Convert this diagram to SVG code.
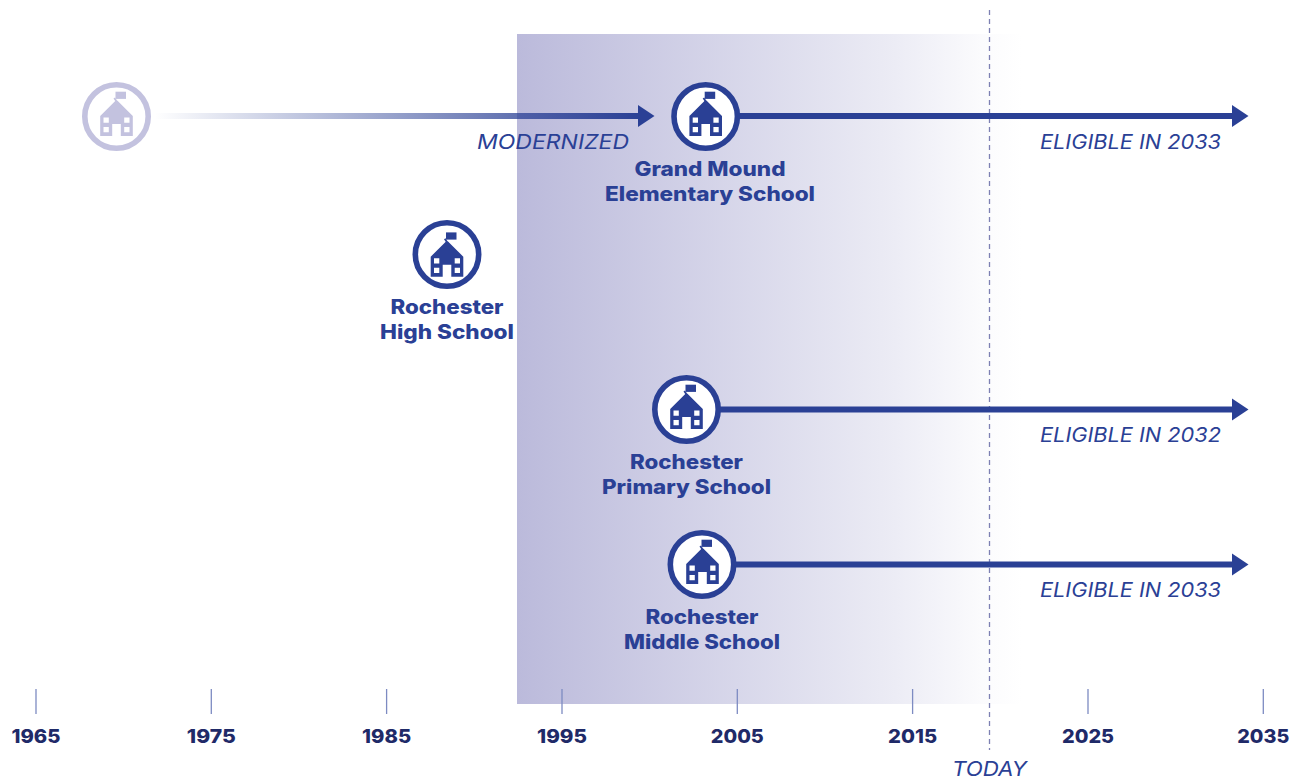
<svg xmlns="http://www.w3.org/2000/svg" width="1300" height="782" viewBox="0 0 1300 782">
<style>
text{font-family:"Inter","Open Sans","Liberation Sans",sans-serif}
.name{font-size:20px;font-weight:800;fill:#2a4095;text-anchor:middle}
.note{font-size:20px;font-style:italic;font-weight:400;fill:#2a4095}
.year{font-size:19px;font-weight:800;fill:#1f2a68;text-anchor:middle}
.line{stroke:#2a4095;stroke-width:6;fill:none}
.tick{stroke:#7d8bc2;stroke-width:1.3}
.head{fill:#2a4095}
</style>
<defs>
<linearGradient id="band" x1="0" x2="1" y1="0" y2="0"><stop offset="0" stop-color="#bbbadb"/><stop offset=".75" stop-color="#ececf5"/><stop offset=".92" stop-color="#fbfbfd"/><stop offset="1" stop-color="#fff"/></linearGradient>
<linearGradient id="fade" gradientUnits="userSpaceOnUse" x1="155" x2="640" y1="0" y2="0"><stop offset="0" stop-color="#2a4095" stop-opacity="0"/><stop offset="1" stop-color="#2a4095"/></linearGradient>
<circle id="ring" r="31.7" fill="#fff" stroke="currentColor" stroke-width="5.600"/>
<g id="house" fill="currentColor">
<path d="M-16.300 19.500V-.5L-1-15.800H1L16.300-.5V19.500H4.300V7.500H-4.300V19.500Z M-13 1V6.300H-7.700V1Z M7.700 1V6.300H13V1Z M-13 10.500V15.800H-7.700V10.500Z M7.700 10.500V15.800H13V10.500Z" fill-rule="evenodd"/>
<rect x="-1" y="-24.800" width="10.500" height="7.200"/>
<path d="M-3-18L-1.500-19L1.500-14.500L0-13.500Z"/>
</g>
</defs>
<rect x="517" y="34" width="505" height="670" fill="url(#band)"/>
<g id="connectors">
<line x1="989.500" y1="10" x2="989.500" y2="750" stroke="#7d80b3" stroke-width="1.300" stroke-dasharray="5 4"/>
<rect x="155" y="113" width="485" height="6" fill="url(#fade)"/>
<path class="head" d="M638 105L654.500 116L638 127Z"/>
<line class="line" x1="738" y1="116" x2="1233" y2="116"/>
<path class="head" d="M1232 105L1248.500 116L1232 127Z"/>
<line class="line" x1="719" y1="409.500" x2="1233" y2="409.500"/>
<path class="head" d="M1232 398.500L1248.500 409.500L1232 420.500Z"/>
<line class="line" x1="734" y1="564.500" x2="1233" y2="564.500"/>
<path class="head" d="M1232 553.500L1248.500 564.500L1232 575.500Z"/>
<g class="ticks">
<line class="tick" x1="36" y1="689" x2="36" y2="714"/>
<line class="tick" x1="211.300" y1="689" x2="211.300" y2="714"/>
<line class="tick" x1="386.600" y1="689" x2="386.600" y2="714"/>
<line class="tick" x1="562" y1="689" x2="562" y2="714"/>
<line class="tick" x1="737.300" y1="689" x2="737.300" y2="714"/>
<line class="tick" x1="912.600" y1="689" x2="912.600" y2="714"/>
<line class="tick" x1="1088" y1="689" x2="1088" y2="714"/>
<line class="tick" x1="1263.300" y1="689" x2="1263.300" y2="714"/>
</g>
</g>
<g id="old-school" color="#c3c2df"><use href="#ring" x="116.500" y="116.500"/><use href="#house" x="116.500" y="116.500"/></g>
<g id="grand-mound" color="#2a4095"><use href="#ring" x="705.700" y="116.500"/><use href="#house" x="705.700" y="116.500"/>
<text class="name" x="710" y="176" textLength="151" lengthAdjust="spacingAndGlyphs">Grand Mound</text>
<text class="name" x="710" y="201" textLength="210" lengthAdjust="spacingAndGlyphs">Elementary School</text></g>
<g id="rochester-high" color="#2a4095"><use href="#ring" x="447" y="254.500"/><use href="#house" x="447" y="257.200"/>
<text class="name" x="447" y="314" textLength="113" lengthAdjust="spacingAndGlyphs">Rochester</text>
<text class="name" x="447" y="339" textLength="134" lengthAdjust="spacingAndGlyphs">High School</text></g>
<g id="rochester-primary" color="#2a4095"><use href="#ring" x="686.500" y="409.500"/><use href="#house" x="686.500" y="409.500"/>
<text class="name" x="686.500" y="469" textLength="113" lengthAdjust="spacingAndGlyphs">Rochester</text>
<text class="name" x="686.500" y="494" textLength="169" lengthAdjust="spacingAndGlyphs">Primary School</text></g>
<g id="rochester-middle" color="#2a4095"><use href="#ring" x="702" y="564.500"/><use href="#house" x="702.500" y="564.500"/>
<text class="name" x="702" y="624" textLength="113" lengthAdjust="spacingAndGlyphs">Rochester</text>
<text class="name" x="702" y="649" textLength="156" lengthAdjust="spacingAndGlyphs">Middle School</text></g>
<g id="notes">
<text class="note" x="477" y="149" textLength="152" lengthAdjust="spacingAndGlyphs">MODERNIZED</text>
<text class="note" x="1040" y="149" textLength="181" lengthAdjust="spacingAndGlyphs">ELIGIBLE IN 2033</text>
<text class="note" x="1040" y="442" textLength="181" lengthAdjust="spacingAndGlyphs">ELIGIBLE IN 2032</text>
<text class="note" x="1040" y="597" textLength="181" lengthAdjust="spacingAndGlyphs">ELIGIBLE IN 2033</text>
<text class="note" x="952" y="776" textLength="75" lengthAdjust="spacingAndGlyphs">TODAY</text>
</g>
<g id="years">
<text class="year" x="36" y="743" textLength="49" lengthAdjust="spacingAndGlyphs">1965</text>
<text class="year" x="211.300" y="743" textLength="49" lengthAdjust="spacingAndGlyphs">1975</text>
<text class="year" x="386.600" y="743" textLength="49" lengthAdjust="spacingAndGlyphs">1985</text>
<text class="year" x="562" y="743" textLength="50" lengthAdjust="spacingAndGlyphs">1995</text>
<text class="year" x="737.300" y="743" textLength="53" lengthAdjust="spacingAndGlyphs">2005</text>
<text class="year" x="912.600" y="743" textLength="49" lengthAdjust="spacingAndGlyphs">2015</text>
<text class="year" x="1088" y="743" textLength="52" lengthAdjust="spacingAndGlyphs">2025</text>
<text class="year" x="1263.300" y="743" textLength="52" lengthAdjust="spacingAndGlyphs">2035</text>
</g>
</svg>
